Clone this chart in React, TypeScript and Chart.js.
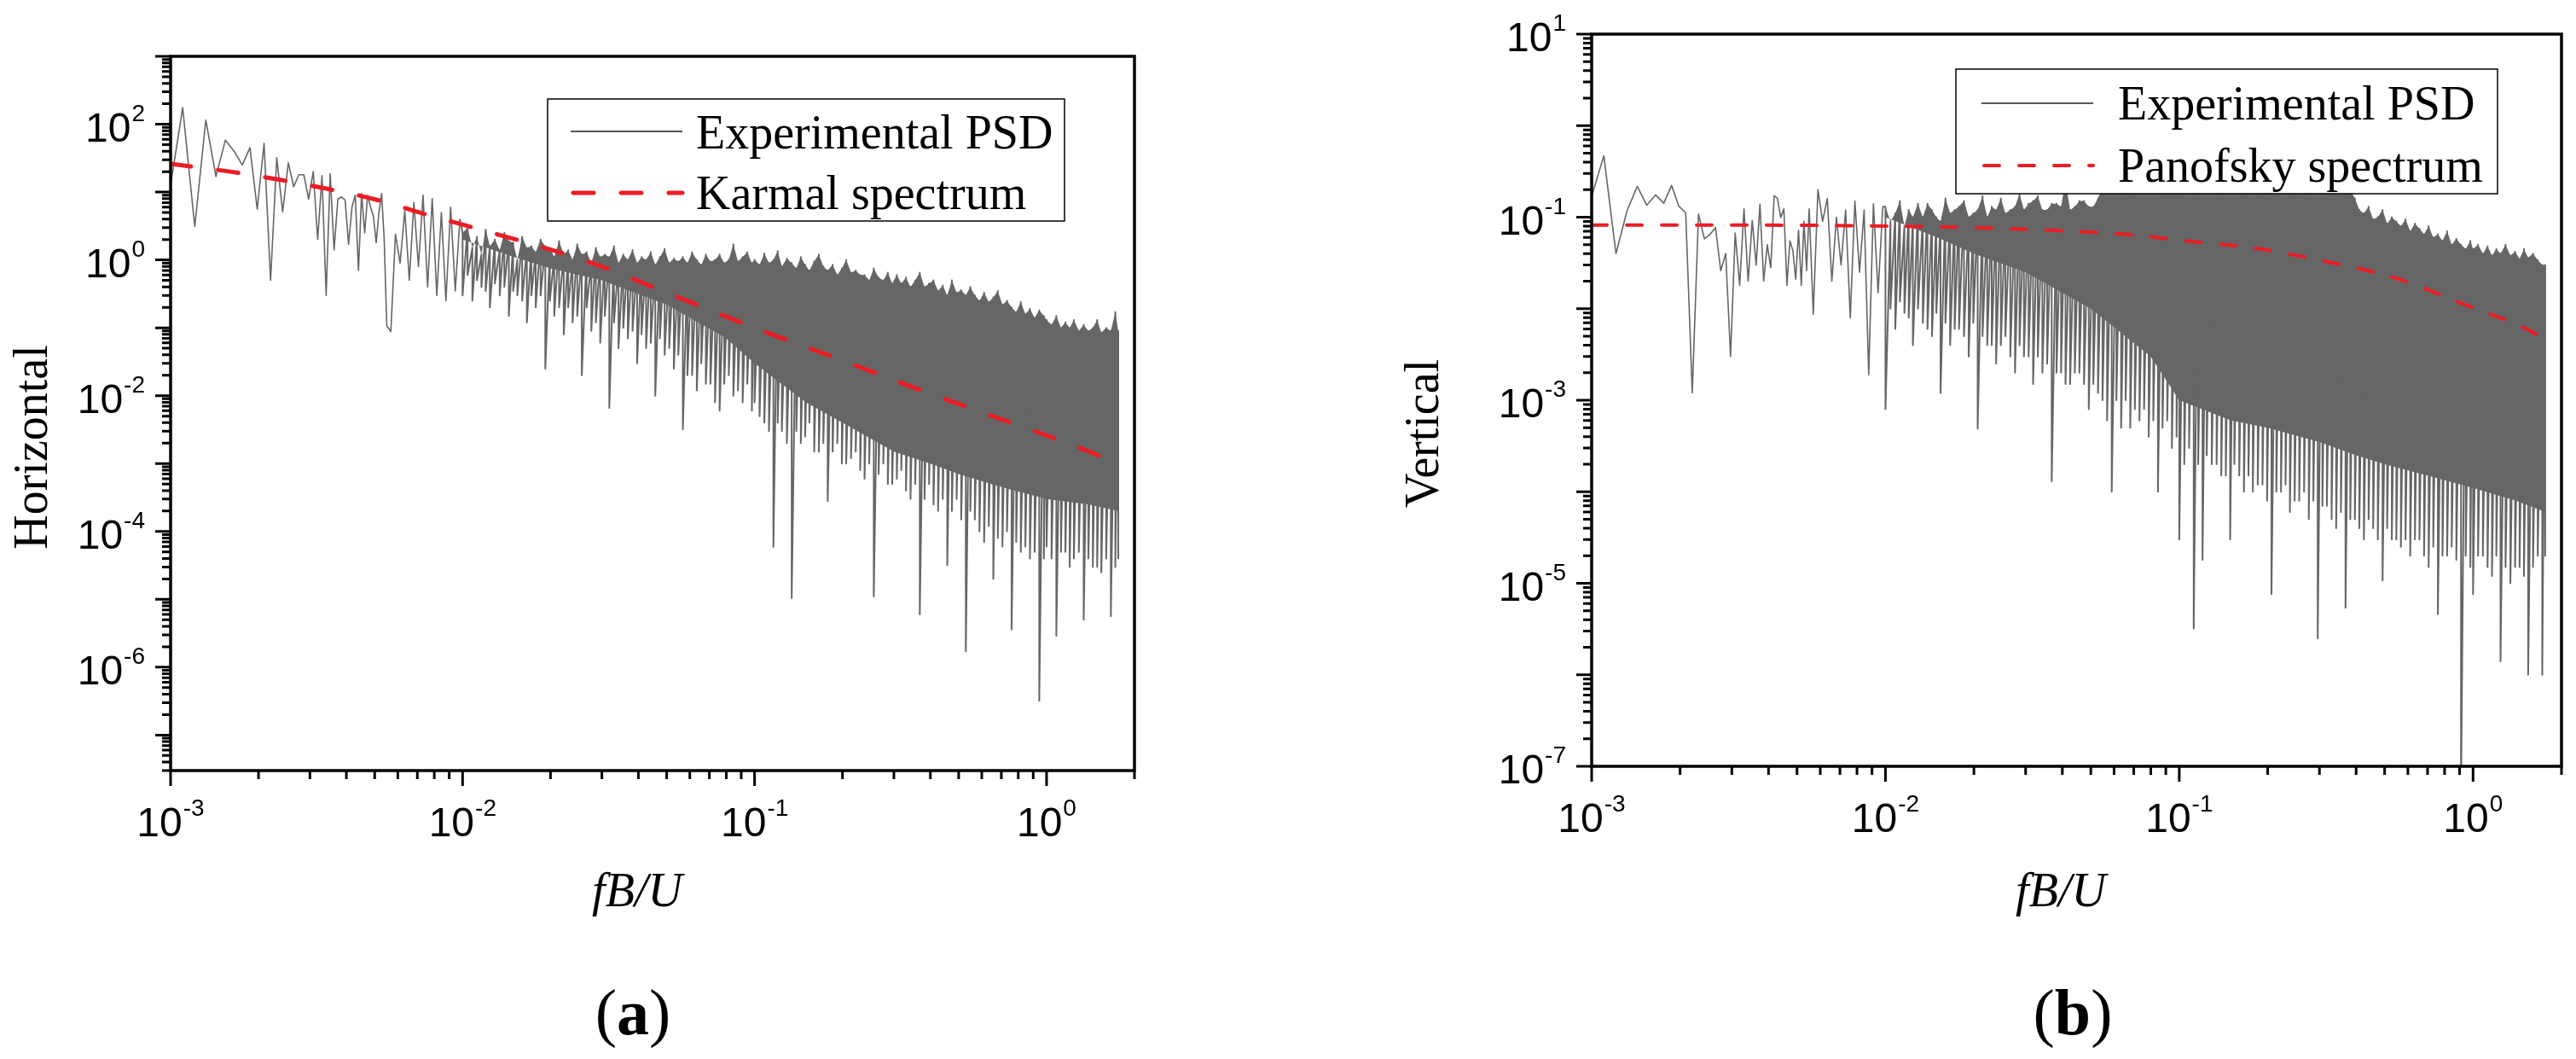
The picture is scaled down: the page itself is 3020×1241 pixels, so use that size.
import { useEffect, useRef } from "react";
import { Chart, registerables } from "chart.js";

Chart.register(...registerables);

const GRAY = "#666666";
const RED = "#ec1c24";
const SANS = '"Liberation Sans", Arial, sans-serif';
const SERIF = '"Liberation Serif", "Times New Roman", serif';

// fB/U of the sparse low-frequency bins (single value each)
const freqSparse = [
  0.00100, 0.00110, 0.00121, 0.00132, 0.00143, 0.00154, 0.00165, 0.00176,
  0.00187, 0.00198, 0.00209, 0.00220, 0.00231, 0.00242, 0.00253, 0.00264,
  0.00275, 0.00286, 0.00297, 0.00308, 0.00319, 0.00330, 0.00341, 0.00352,
  0.00363, 0.00374, 0.00385, 0.00396, 0.00407, 0.00418, 0.00429, 0.00440,
  0.00451, 0.00462, 0.00473, 0.00484, 0.00495, 0.00506, 0.00517, 0.00528,
  0.00539, 0.00550, 0.00568, 0.00589, 0.00611, 0.00634, 0.00657, 0.00681,
  0.00706, 0.00732, 0.00759, 0.00787, 0.00816, 0.00846, 0.00877, 0.00910,
  0.00944, 0.00979,
];

const horizSparse = [
  12.7, 176, 3.1, 115, 17, 58, 40, 25,
  45, 5.6, 52, 0.5, 32, 5.1, 27, 12,
  18, 18, 7.9, 20, 2.0, 17.5, 0.3, 18.6,
  1.4, 7.9, 8.5, 7.6, 1.7, 6, 9, 0.7,
  9.5, 2.5, 9, 6, 4.4, 1.8, 5, 9.5,
  2, 0.107, 0.088, 2.4, 0.9, 5.3, 0.5, 7,
  0.8, 9, 0.4, 8, 0.3, 5, 0.25, 6,
  0.35, 4,
];

const vertSparse = [
  0.169, 0.468, 0.040, 0.118, 0.217, 0.135, 0.175, 0.142,
  0.222, 0.132, 0.112, 0.0012, 0.108, 0.058, 0.065, 0.077,
  0.026, 0.04, 0.003, 0.067, 0.018, 0.123, 0.02, 0.092,
  0.03, 0.139, 0.02, 0.05, 0.028, 0.172, 0.16, 0.099,
  0.123, 0.018, 0.055, 0.043, 0.021, 0.072, 0.018, 0.09,
  0.026, 0.123, 0.0087, 0.2, 0.09, 0.16, 0.02, 0.1,
  0.03, 0.12, 0.008, 0.15, 0.025, 0.12, 0.0019, 0.14,
  0.015, 0.13,
];

// fB/U of the dense bins, where each bin is read as a high and a low
const freqDense = [
  0.0100, 0.0104, 0.0108, 0.0112, 0.0116, 0.0120, 0.0124, 0.0129,
  0.0134, 0.0139, 0.0144, 0.0149, 0.0154, 0.0160, 0.0166, 0.0172,
  0.0178, 0.0185, 0.0192, 0.0199, 0.0206, 0.0214, 0.0222, 0.0230,
  0.0238, 0.0247, 0.0256, 0.0266, 0.0276, 0.0286, 0.0296, 0.0307,
  0.0318, 0.0330, 0.0342, 0.0355, 0.0368, 0.0382, 0.0396, 0.0410,
  0.0425, 0.0441, 0.0457, 0.0474, 0.0492, 0.0510, 0.0529, 0.0548,
  0.0568, 0.0589, 0.0611, 0.0634, 0.0657, 0.0681, 0.0706, 0.0732,
  0.0759, 0.0787, 0.0816, 0.0846, 0.0877, 0.0910, 0.0944, 0.0979,
  0.100, 0.104, 0.108, 0.112, 0.116, 0.120, 0.124, 0.129,
  0.134, 0.139, 0.144, 0.149, 0.154, 0.160, 0.166, 0.172,
  0.178, 0.185, 0.192, 0.199, 0.206, 0.214, 0.222, 0.230,
  0.238, 0.247, 0.256, 0.266, 0.276, 0.286, 0.296, 0.307,
  0.318, 0.330, 0.342, 0.355, 0.368, 0.382, 0.396, 0.410,
  0.425, 0.441, 0.457, 0.474, 0.492, 0.510, 0.529, 0.548,
  0.568, 0.589, 0.611, 0.634, 0.657, 0.681, 0.706, 0.732,
  0.759, 0.787, 0.816, 0.846, 0.877, 0.910, 0.944, 0.979,
  1.00, 1.04, 1.08, 1.12, 1.16, 1.20, 1.24, 1.29,
  1.34, 1.39, 1.44, 1.49, 1.54, 1.60, 1.66, 1.72,
  1.76,
];

const horizHi = [
  2.5, 3, 1.5, 2.2, 1.2, 2.8, 1.6, 2,
  1.4, 2.5, 1.9, 1.8, 1.0, 2.2, 1.5, 1.6,
  1.3, 2, 1.6, 1.5, 1.1, 1.9, 1.2, 1.4,
  1.0, 1.7, 1.2, 1.3, 0.9, 1.5, 1.1, 1.2,
  1.1, 1.6, 0.9, 1.2, 1.0, 1.4, 0.9, 1.1,
  1.0, 1.3, 0.85, 1.1, 1.45, 0.9, 1.05, 0.95,
  1.1, 0.9, 1.3, 1.0, 0.85, 1.2, 0.95, 1.0,
  1.2, 0.9, 1.0, 1.7, 0.95, 1.1, 1.3, 0.9,
  1.0, 0.85, 1.25, 0.9, 1.0, 1.35, 0.8, 1.05,
  0.9, 0.75, 1.1, 0.85, 0.7, 0.95, 1.2, 0.8,
  0.7, 0.85, 0.6, 0.75, 1.0, 0.65, 0.7, 0.6,
  0.6, 0.5, 0.75, 0.55, 0.5, 0.65, 0.45, 0.6,
  0.45, 0.55, 0.4, 0.5, 0.65, 0.4, 0.45, 0.5,
  0.35, 0.42, 0.3, 0.5, 0.33, 0.36, 0.3, 0.4,
  0.3, 0.25, 0.33, 0.24, 0.28, 0.35, 0.22, 0.25,
  0.2, 0.17, 0.24, 0.16, 0.19, 0.14, 0.18, 0.15,
  0.13, 0.11, 0.15, 0.1, 0.12, 0.1, 0.13, 0.09,
  0.11, 0.09, 0.1, 0.13, 0.085, 0.1, 0.09, 0.17,
  0.09,
];

const horizLo = [
  0.3, 0.6, 0.25, 0.5, 0.4, 0.35, 0.2, 0.45,
  0.3, 0.4, 0.15, 0.35, 0.3, 0.25, 0.12, 0.3,
  0.2, 0.3, 0.025, 0.25, 0.15, 0.2, 0.08, 0.2,
  0.12, 0.15, 0.02, 0.2, 0.09, 0.12, 0.06, 0.15,
  0.0066, 0.12, 0.05, 0.1, 0.07, 0.09, 0.03, 0.08,
  0.05, 0.06, 0.01, 0.07, 0.04, 0.05, 0.025, 0.04,
  0.0032, 0.02, 0.02, 0.012, 0.03, 0.015, 0.015, 0.008,
  0.006, 0.015, 0.02, 0.01, 0.012, 0.008, 0.015, 0.006,
  0.008, 0.005, 0.004, 0.003, 5.9e-5, 0.004, 0.003, 0.002,
  1.05e-5, 0.003, 0.002, 0.0025, 0.004, 0.0015, 0.0015, 0.002,
  2.8e-4, 0.0015, 0.002, 0.001, 0.001, 0.0012, 0.0015, 8e-4,
  6e-4, 0.001, 1.1e-5, 7e-4, 0.001, 5e-4, 5e-4, 6e-4,
  8e-4, 4e-4, 3e-4, 5e-4, 6e-6, 3e-4, 5e-4, 2.5e-4,
  2e-4, 3e-4, 3.2e-5, 2e-4, 3e-4, 1.5e-4, 1.7e-6, 2e-4,
  1.5e-4, 1e-4, 7e-5, 1.2e-4, 2e-5, 8e-5, 6e-5, 1e-4,
  3.6e-6, 7e-5, 5e-5, 6e-5, 4e-5, 5e-5, 3.2e-7, 4e-5,
  6e-5, 4e-5, 2.9e-6, 5e-5, 5e-5, 3e-5, 4e-5, 5e-5,
  5e-6, 4e-5, 3e-5, 3e-5, 2.5e-5, 4e-5, 5.6e-6, 3e-5,
  4e-5,
];

const vertHi = [
  0.13, 0.09, 0.11, 0.15, 0.08, 0.12, 0.1, 0.14,
  0.1, 0.14, 0.12, 0.1, 0.09, 0.16, 0.11, 0.12,
  0.13, 0.15, 0.1, 0.11, 0.12, 0.17, 0.1, 0.13,
  0.12, 0.16, 0.11, 0.12, 0.13, 0.18, 0.12, 0.14,
  0.15, 0.17, 0.12, 0.12, 0.14, 0.14, 0.13, 0.25,
  0.12, 0.13, 0.15, 0.15, 0.13, 0.13, 0.16, 0.22,
  0.2, 0.25, 0.22, 0.3, 0.25, 0.3, 0.28, 0.25,
  0.3, 0.3, 0.28, 0.35, 0.3, 0.3, 0.32, 0.3,
  0.35, 0.35, 0.3, 0.3, 0.35, 0.3, 0.35, 0.35,
  0.3, 0.35, 0.3, 0.35, 0.3, 0.3, 0.35, 0.35,
  0.3, 0.35, 0.3, 0.35, 0.3, 0.3, 0.35, 0.35,
  0.3, 0.3, 0.35, 0.3, 0.3, 0.3, 0.28, 0.3,
  0.3, 0.25, 0.3, 0.28, 0.22, 0.2, 0.16, 0.12,
  0.11, 0.13, 0.095, 0.1, 0.12, 0.085, 0.1, 0.09,
  0.08, 0.095, 0.07, 0.085, 0.075, 0.065, 0.08, 0.06,
  0.065, 0.055, 0.07, 0.05, 0.058, 0.05, 0.045, 0.055,
  0.045, 0.05, 0.04, 0.048, 0.038, 0.045, 0.04, 0.05,
  0.038, 0.042, 0.035, 0.045, 0.036, 0.04, 0.034, 0.03,
  0.03,
];

const vertLo = [
  8e-4, 0.01, 0.006, 0.012, 0.009, 0.008, 0.004, 0.01,
  0.007, 0.006, 0.005, 0.009, 0.0012, 0.007, 0.004, 0.006,
  0.006, 0.005, 0.003, 0.007, 4.9e-4, 0.005, 0.004, 0.004,
  0.0025, 0.004, 0.005, 0.003, 0.002, 0.004, 0.003, 0.003,
  0.0015, 0.003, 0.002, 0.0025, 1.3e-4, 0.002, 0.002, 0.0015,
  0.0015, 0.002, 0.002, 0.0015, 8e-4, 0.0015, 0.0012, 0.001,
  6e-4, 1e-4, 0.001, 5e-4, 0.001, 5e-4, 8e-4, 6e-4,
  8e-4, 4e-4, 6e-4, 1e-4, 5e-4, 6e-4, 3e-4, 4e-4,
  3e-5, 2e-4, 3e-4, 3.2e-6, 2e-4, 1.8e-5, 2.5e-4, 2e-4,
  2e-4, 1.5e-4, 1.5e-4, 3e-5, 2e-4, 1.5e-4, 1e-4, 1.5e-4,
  1e-4, 1.2e-4, 1.2e-4, 8e-5, 7.6e-6, 1e-4, 1e-4, 1.2e-4,
  6e-5, 8e-5, 8e-5, 1e-4, 5e-5, 8e-5, 2.5e-6, 7e-5,
  7e-5, 5e-5, 4e-5, 6e-5, 5.4e-6, 5e-5, 5e-5, 4e-5,
  3e-5, 5e-5, 4e-5, 3e-5, 1.07e-5, 4e-5, 3e-5, 3e-5,
  2.5e-5, 3e-5, 2e-5, 3e-5, 3e-5, 2e-5, 1.5e-5, 2.5e-5,
  4.6e-6, 2e-5, 2e-5, 2.5e-5, 1.8e-5, 5e-8, 2e-5, 1.5e-5,
  7.6e-6, 2e-5, 2e-5, 1.5e-5, 1.2e-5, 2e-5, 1.4e-6, 1.5e-5,
  1e-5, 1.5e-5, 1.5e-5, 1.2e-5, 1e-6, 1.5e-5, 2e-5, 1e-6,
  2e-5,
];

// lower edge of the solid part of the band (its upper edge is the bin highs)
const coreFreq = [0.01, 0.015, 0.02, 0.03, 0.05, 0.08, 0.1, 0.15, 0.2, 0.3, 0.4, 0.5, 0.7, 1.0, 1.4, 1.76];
const horizCoreLo = [2.0, 1.1, 0.75, 0.5, 0.22, 0.07, 0.03, 0.008, 0.004, 0.0015, 0.001, 7e-4, 4.5e-4, 3e-4, 2.5e-4, 2e-4];
const vertCoreLo = [0.1, 0.06, 0.04, 0.025, 0.01, 0.003, 0.001, 6e-4, 5e-4, 3.5e-4, 2.5e-4, 2e-4, 1.5e-4, 1.1e-4, 8e-5, 6e-5];

// target spectra
const karmalFreq = [0.001, 0.0016, 0.0024, 0.0035, 0.0052, 0.0076, 0.0103, 0.0268, 0.05, 0.1, 0.2, 0.354, 0.6, 1.0, 1.4, 1.76];
const karmalVal = [26, 20, 15, 11, 7.5, 4.6, 3.2, 0.95, 0.33, 0.1, 0.033, 0.013, 0.0057, 0.0026, 0.0015, 0.001];
const panofskyFreq = [0.001, 0.003, 0.01, 0.02, 0.04, 0.07, 0.1, 0.18, 0.3, 0.56, 1.0, 1.4, 1.8];
const panofskyVal = [0.082, 0.082, 0.08, 0.077, 0.071, 0.064, 0.056, 0.046, 0.034, 0.021, 0.0102, 0.0068, 0.0045];

// tick label exponents (10^n)
const xTickExps = [-3, -2, -1, 0];
const horizTickExps = [2, 0, -2, -4, -6];
const vertTickExps = [1, -1, -3, -5, -7];

type Legend = {
    x: number; y: number; w: number; h: number;
    s0: number; s1: number; row1: number; row2: number;
    textX: number; base1: number; base2: number;
};

type PanelProps = {
    left: number;
    sparse: number[];
    hi: number[];
    lo: number[];
    coreLo: number[];
    modelFreq: number[];
    modelVal: number[];
    modelLabel: string;
    dash: number[];
    dashWidth: number;
    yMin: number;
    yMax: number;
    yExps: number[];
    yTitle: string;
    tag: string;
    pad: { left: number; top: number; right: number; bottom: number };
    legend: Legend;
    yTitleX: number; yTitleY: number;
    xTitleX: number; xTitleY: number;
    tagX: number; tagY: number;
};

const powLabel = (ctx: CanvasRenderingContext2D, exp: number, x: number, y: number, align: "center" | "right") => {
    const e = String(exp);
    ctx.font = `48px ${SANS}`;
    const w1 = ctx.measureText("10").width;
    ctx.font = `28px ${SANS}`;
    const w2 = ctx.measureText(e).width;
    const total = w1 + 1 + w2;
    const x0 = align === "center" ? x - total / 2 : x - total;
    ctx.textAlign = "left";
    ctx.textBaseline = "alphabetic";
    ctx.font = `48px ${SANS}`;
    ctx.fillText("10", x0, y);
    ctx.font = `28px ${SANS}`;
    ctx.fillText(e, x0 + w1 + 1, y - 24);
};

const makeDecor = (p: PanelProps) => ({
    id: "originDecor",
    afterDraw(chart: Chart) {
        const { ctx, chartArea: a } = chart;
        const xs = chart.scales.x;
        const ys = chart.scales.y;
        ctx.save();

        // legend box
        const L = p.legend;
        ctx.fillStyle = "#fff";
        ctx.fillRect(L.x, L.y, L.w, L.h);
        ctx.strokeStyle = "#000";
        ctx.lineWidth = 1.5;
        ctx.strokeRect(L.x, L.y, L.w, L.h);
        ctx.strokeStyle = "#555";
        ctx.lineWidth = 2;
        ctx.beginPath();
        ctx.moveTo(L.s0, L.row1);
        ctx.lineTo(L.s1, L.row1);
        ctx.stroke();
        ctx.strokeStyle = RED;
        ctx.lineWidth = p.dashWidth;
        ctx.lineCap = "round";
        ctx.setLineDash(p.dash);
        ctx.beginPath();
        ctx.moveTo(L.s0 + 3, L.row2);
        ctx.lineTo(L.s1, L.row2);
        ctx.stroke();
        ctx.setLineDash([]);
        ctx.lineCap = "butt";
        ctx.fillStyle = "#000";
        ctx.font = `56px ${SERIF}`;
        ctx.textAlign = "left";
        ctx.fillText("Experimental PSD", L.textX, L.base1);
        ctx.fillText(p.modelLabel, L.textX, L.base2);

        // frame
        ctx.strokeStyle = "#000";
        ctx.lineWidth = 3.5;
        ctx.strokeRect(a.left, a.top, a.right - a.left, a.bottom - a.top);

        // outward ticks, bottom and left only
        ctx.lineWidth = 3;
        ctx.beginPath();
        for (let e = -3; e <= 0; e++) {
            for (let k = 1; k <= 9; k++) {
                const v = k * Math.pow(10, e);
                if (v > xs.max * 1.0001) break;
                const px = xs.getPixelForValue(v);
                ctx.moveTo(px, a.bottom);
                ctx.lineTo(px, a.bottom + (k === 1 ? 18 : 10));
            }
        }
        const eLo = Math.floor(Math.log10(ys.min));
        const eHi = Math.ceil(Math.log10(ys.max));
        for (let e = eLo; e <= eHi; e++) {
            for (let k = 1; k <= 9; k++) {
                const v = k * Math.pow(10, e);
                if (v < ys.min * 0.9999 || v > ys.max * 1.0001) continue;
                const py = ys.getPixelForValue(v);
                ctx.moveTo(a.left, py);
                ctx.lineTo(a.left - (k === 1 ? 18 : 10), py);
            }
        }
        ctx.stroke();

        // tick labels
        ctx.fillStyle = "#000";
        xTickExps.forEach((n) => powLabel(ctx, n, xs.getPixelForValue(Math.pow(10, n)), a.bottom + 77, "center"));
        p.yExps.forEach((n) => powLabel(ctx, n, a.left - 30, ys.getPixelForValue(Math.pow(10, n)) + 20, "right"));

        // axis titles
        ctx.font = `56px ${SERIF}`;
        ctx.textBaseline = "alphabetic";
        ctx.save();
        ctx.translate(p.yTitleX, p.yTitleY);
        ctx.rotate(-Math.PI / 2);
        ctx.textAlign = "center";
        ctx.fillText(p.yTitle, 0, 0);
        ctx.restore();

        ctx.font = `italic 56px ${SERIF}`;
        ctx.textAlign = "center";
        ctx.fillText("fB/U", p.xTitleX, p.xTitleY);

        // panel tag: regular parens, bold letter
        ctx.textAlign = "left";
        ctx.font = `76px ${SERIF}`;
        const wp = ctx.measureText("(").width;
        ctx.font = `bold 76px ${SERIF}`;
        const wl = ctx.measureText(p.tag).width;
        ctx.font = `76px ${SERIF}`;
        const wq = ctx.measureText(")").width;
        const x0 = p.tagX - (wp + wl + wq) / 2;
        ctx.fillText("(", x0, p.tagY);
        ctx.fillText(")", x0 + wp + wl, p.tagY);
        ctx.font = `bold 76px ${SERIF}`;
        ctx.fillText(p.tag, x0 + wp, p.tagY);

        ctx.restore();
    },
});

const pts = (xs: number[], ys: number[]) => ys.map((y, i) => ({ x: xs[i], y }));

// dense bins drawn as a high then a low vertex, joined to the last sparse bin
const densePoints = (sparse: number[], hi: number[], lo: number[]) => {
    const last = freqSparse.length - 1;
    const out = [{ x: freqSparse[last], y: sparse[last] }];
    freqDense.forEach((f, i) => {
        out.push({ x: f, y: hi[i] });
        out.push({ x: f, y: lo[i] });
    });
    return out;
};

const Panel: React.FC<PanelProps> = (p) => {
    const chartRef = useRef<HTMLCanvasElement>(null);

    useEffect(() => {
        if (!chartRef.current) return;
        const chart = new Chart(chartRef.current, {
            type: "line",
            data: {
                datasets: [
                    {
                        label: p.modelLabel,
                        data: pts(p.modelFreq, p.modelVal),
                        borderColor: RED,
                        borderWidth: p.dashWidth,
                        borderDash: p.dash,
                        borderCapStyle: "round",
                        cubicInterpolationMode: "monotone",
                        pointRadius: 0,
                        fill: false,
                        order: 0,
                    },
                    {
                        label: "Experimental PSD",
                        data: pts(freqSparse, p.sparse),
                        borderColor: GRAY,
                        borderWidth: 1.6,
                        borderJoinStyle: "round",
                        pointRadius: 0,
                        fill: false,
                        order: 1,
                    },
                    {
                        label: "Experimental PSD (dense)",
                        data: densePoints(p.sparse, p.hi, p.lo),
                        borderColor: GRAY,
                        borderWidth: 2,
                        borderJoinStyle: "round",
                        pointRadius: 0,
                        fill: false,
                        order: 1,
                    },
                    {
                        label: "band-top",
                        data: pts(freqDense, p.hi),
                        borderColor: "transparent",
                        borderWidth: 0,
                        backgroundColor: GRAY,
                        pointRadius: 0,
                        fill: "+1",
                        order: 2,
                    },
                    {
                        label: "band-bottom",
                        data: pts(coreFreq, p.coreLo),
                        borderColor: "transparent",
                        borderWidth: 0,
                        pointRadius: 0,
                        fill: false,
                        order: 3,
                    },
                ],
            },
            options: {
                responsive: false,
                animation: false,
                devicePixelRatio: 1,
                events: [],
                layout: { padding: p.pad },
                plugins: {
                    legend: { display: false },
                    tooltip: { enabled: false },
                    title: { display: false },
                },
                scales: {
                    x: { type: "logarithmic", min: 1e-3, max: 2, display: false },
                    y: { type: "logarithmic", min: p.yMin, max: p.yMax, display: false },
                },
            },
            plugins: [makeDecor(p)],
        });

        return () => {
            chart.destroy();
        };
    }, []);

    return (
        <canvas
            ref={chartRef}
            width={1510}
            height={1241}
            style={{ position: "absolute", left: p.left, top: 0 }}
        ></canvas>
    );
};

const App: React.FC = () => {
    return (
        <div style={{ position: "fixed", left: 0, top: 0, width: 3020, height: 1241, background: "#fff" }}>
            <Panel
                left={0}
                sparse={horizSparse}
                hi={horizHi}
                lo={horizLo}
                coreLo={horizCoreLo}
                modelFreq={karmalFreq}
                modelVal={karmalVal}
                modelLabel="Karmal spectrum"
                dash={[24, 32]}
                dashWidth={5}
                yMin={3e-8}
                yMax={1e3}
                yExps={horizTickExps}
                yTitle="Horizontal"
                tag="a"
                pad={{ left: 200, top: 66, right: 180, bottom: 338 }}
                legend={{ x: 642, y: 116, w: 606, h: 143, s0: 669, s1: 800, row1: 154, row2: 226, textX: 816, base1: 174, base2: 245 }}
                yTitleX={55}
                yTitleY={524}
                xTitleX={747}
                xTitleY={1062}
                tagX={742}
                tagY={1212}
            />
            <Panel
                left={1510}
                sparse={vertSparse}
                hi={vertHi}
                lo={vertLo}
                coreLo={vertCoreLo}
                modelFreq={panofskyFreq}
                modelVal={panofskyVal}
                modelLabel="Panofsky spectrum"
                dash={[18, 23]}
                dashWidth={4}
                yMin={1e-7}
                yMax={10}
                yExps={vertTickExps}
                yTitle="Vertical"
                tag="b"
                pad={{ left: 356, top: 40, right: 17, bottom: 343 }}
                legend={{ x: 783, y: 81, w: 635, h: 146, s0: 813, s1: 944, row1: 121, row2: 194, textX: 973, base1: 140, base2: 213 }}
                yTitleX={176}
                yTitleY={508}
                xTitleX={906}
                xTitleY={1062}
                tagX={920}
                tagY={1212}
            />
        </div>
    );
};

export default App;
